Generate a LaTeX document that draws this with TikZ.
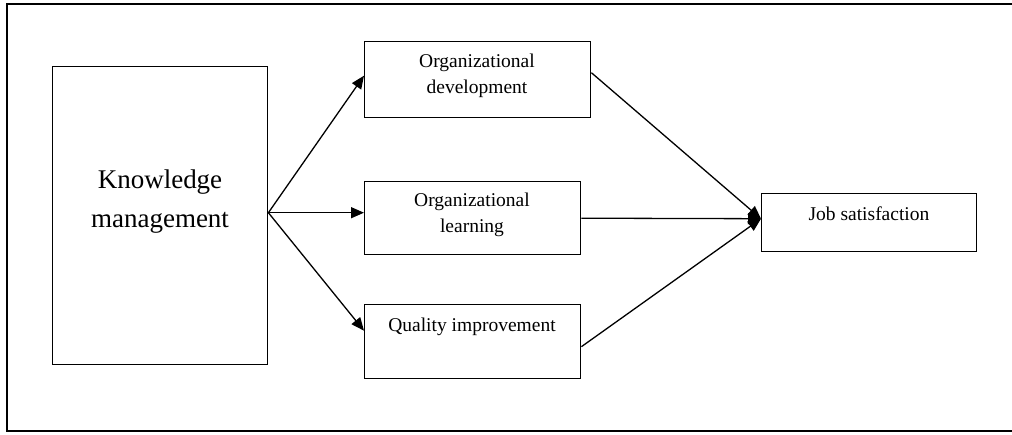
\documentclass[tikz,border=0pt]{standalone}
\usepackage{fontspec}
\setmainfont{Liberation Serif}
\usetikzlibrary{arrows.meta}
\begin{document}
\begin{tikzpicture}[x=1pt,y=-1pt,
  boxnode/.style={draw,line width=1.4pt,inner sep=0pt,anchor=north west},
  txt/.style={inner sep=0pt,align=center,font=\fontsize{19.5}{26}\selectfont},
  conn/.style={line width=1.3pt},
  arr/.style={conn,-{Triangle[length=13pt,width=11pt]}}]
\useasboundingbox (0,0) rectangle (1012,434);
\draw[line width=1.6pt] (1012,4) -- (7,4) -- (7,431) -- (1012,431);
% boxes
\node[boxnode,minimum width=215pt,minimum height=298pt] (km) at (52,66) {};
\node[boxnode,minimum width=226pt,minimum height=76pt] (od) at (364,41) {};
\node[boxnode,minimum width=216pt,minimum height=73pt] (ol) at (364,181) {};
\node[boxnode,minimum width=216pt,minimum height=74pt] (qi) at (364,304) {};
\node[boxnode,minimum width=215pt,minimum height=58pt] (js) at (761,193) {};
% texts
\node[txt,font=\fontsize{27}{39}\selectfont] (kmt) at (160,202) {Knowledge\\management};
\node[txt] (odt) at (477,76) {Organizational\\development};
\node[txt] (olt) at (472,215) {Organizational\\learning};
\node[txt] (qit) at (472,327) {Quality improvement};
\node[txt] (jst) at (869,214) {Job satisfaction};
% connectors
\coordinate (src) at ([yshift=3pt]km.east);
\draw[arr] (src) -- ([yshift=4pt]od.west);
\draw[arr] (src) -- ([yshift=5.5pt]ol.west);
\draw[arr] (src) -- ([yshift=11pt]qi.west);
\coordinate (dst) at ([yshift=4pt]js.west);
\draw[arr] ([yshift=-5pt]qi.east) -- (dst);
\draw[arr] ([yshift=7pt]od.east) -- (dst);
\draw[arr] (ol.east) -- (dst);
\end{tikzpicture}
\end{document}
